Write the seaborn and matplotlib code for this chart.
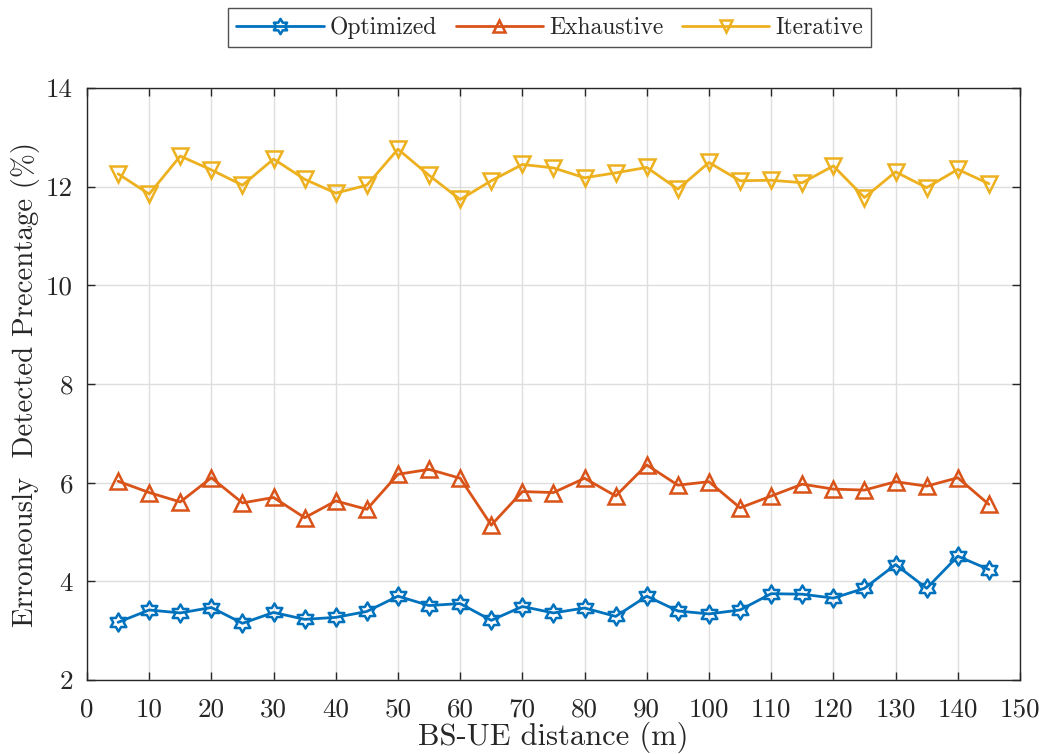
import numpy as np
import pandas as pd
import matplotlib
matplotlib.use("Agg")
import matplotlib.pyplot as plt
from matplotlib.path import Path
import seaborn as sns

distance = list(range(5, 150, 5))
optimized = [3.17, 3.42, 3.36, 3.47, 3.15, 3.37, 3.23, 3.27, 3.39, 3.70, 3.51, 3.55, 3.21, 3.49, 3.36,
             3.46, 3.29, 3.70, 3.40, 3.34, 3.42, 3.75, 3.74, 3.66, 3.86, 4.34, 3.86, 4.51, 4.24]
exhaustive = [6.03, 5.80, 5.61, 6.10, 5.59, 5.70, 5.29, 5.63, 5.46, 6.17, 6.27, 6.09, 5.14, 5.82, 5.80,
              6.09, 5.73, 6.36, 5.95, 6.02, 5.49, 5.73, 5.97, 5.87, 5.85, 6.02, 5.93, 6.10, 5.56]
iterative = [12.26, 11.85, 12.62, 12.34, 12.03, 12.56, 12.15, 11.87, 12.03, 12.76, 12.23, 11.74, 12.12, 12.45, 12.38,
             12.18, 12.28, 12.39, 11.95, 12.49, 12.12, 12.13, 12.08, 12.42, 11.78, 12.30, 11.98, 12.35, 12.06]
series_names = ["Optimized", "Exhaustive", "Iterative"]
x_ticks = list(range(0, 151, 10))
y_ticks = list(range(2, 15, 2))

df = pd.DataFrame({
    "distance": distance * 3,
    "value": optimized + exhaustive + iterative,
    "method": [series_names[0]] * len(distance) + [series_names[1]] * len(distance) + [series_names[2]] * len(distance),
})

sns.set_theme(style="white")
plt.rcParams["font.family"] = ["cmr10", "Liberation Serif", "DejaVu Serif"]
plt.rcParams["axes.formatter.use_mathtext"] = True
plt.rcParams["mathtext.fontset"] = "cm"

# hexagram (Star of David) marker outline
ang = np.deg2rad(90 + 30 * np.arange(12))
rad = np.where(np.arange(12) % 2 == 0, 1.0, 1.0 / np.sqrt(3))
hex_verts = np.column_stack([rad * np.cos(ang), rad * np.sin(ang)])
hex_verts = np.vstack([hex_verts, hex_verts[:1]])
hexagram = Path(hex_verts, closed=True)

colors = {"Optimized": "#0072BD", "Exhaustive": "#D95319", "Iterative": "#EDB120"}
markers = {"Optimized": hexagram, "Exhaustive": "^", "Iterative": "v"}
msizes = {"Optimized": 13, "Exhaustive": 11, "Iterative": 11}

fig = plt.figure(figsize=(10.39, 7.54), dpi=100)
ax = fig.add_axes([0.0837, 0.0981, 0.8980, 0.7852])

sns.lineplot(data=df, x="distance", y="value", hue="method", style="method",
             palette=colors, markers=markers, dashes=False, ax=ax,
             linewidth=2.0, legend=True)

def style_line(line, name):
    c = colors[name]
    line.set_color(c)
    line.set_markerfacecolor("none")
    line.set_markeredgecolor(c)
    line.set_markersize(msizes[name])
    line.set_markeredgewidth(1.8)
    line.set_linewidth(2.0)

for line, name in zip(ax.lines[:3], series_names):
    style_line(line, name)

ax.set_xlim(0, 150)
ax.set_ylim(2, 14)
ax.set_xticks(x_ticks)
ax.set_yticks(y_ticks)
ax.set_xticklabels([str(v) for v in x_ticks])
ax.set_yticklabels([str(v) for v in y_ticks])
ax.grid(True, color="#dedede", linewidth=1.0)
ax.tick_params(direction="in", length=6, width=1.0, labelsize=19.5, colors="#262626",
               top=True, right=True, bottom=True, left=True)
ax.tick_params(axis="x", pad=13)
ax.tick_params(axis="y", pad=10)
for s in ax.spines.values():
    s.set_color("#262626")
    s.set_linewidth(1.0)
ax.set_xlabel("BS-UE distance (m)", fontsize=22, labelpad=0, color="#262626")
ax.set_ylabel("Erroneously  Detected Precentage (%)", fontsize=20.8, color="#262626")
ax.yaxis.set_label_coords(-0.05, 0.5)

handles, labels = ax.get_legend_handles_labels()
for h, name in zip(handles, labels):
    style_line(h, name)
    h.set_markersize(msizes[name] - 2)
ax.legend_.remove()
leg = fig.legend(handles, labels, loc="center", bbox_to_anchor=(0.529, 0.963), ncol=3,
                 fontsize=17, frameon=True, fancybox=False, edgecolor="#262626",
                 handlelength=3.7, columnspacing=0.8, handletextpad=0.25, borderpad=0.35)
leg.get_frame().set_linewidth(1.0)

fig.savefig("out.png", dpi=100)
